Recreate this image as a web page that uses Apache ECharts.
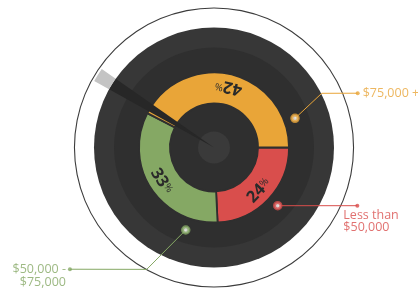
<!DOCTYPE html>
<html lang="en">
<head>
<meta charset="UTF-8">
<title>Income split</title>
<style>
  html, body { margin: 0; padding: 0; background: #fff; }
  #main { width: 418px; height: 297px; }
</style>
<script src="https://cdn.jsdelivr.net/npm/echarts@6/dist/echarts.min.js"></script>
</head>
<body>
<div id="main"></div>
<script>
// income groups, clockwise from 3 o'clock
var groups = ['Less than\n$50,000', '$50,000 -\n$75,000', '$75,000 +'];
var shares = [24, 33, 42];
var groupColors = ['#d94e4c', '#85a864', '#e9a538'];

// leader lines as polar points [radius, angle], angle ccw from 3 o'clock
var leaderPaths = [
    [[86.3, 317.6], [154.7, 337.9]],
    [[87.2, 251.1], [139.2, 241.1], [188.6, 220.2]],
    [[86.1, 19.8], [120.6, 26.7], [153.6, 20.7]]
];

// needle direction and width in degrees
var needleAngle = 148;
var needleWidth = 6;

var total = shares.reduce(function (a, b) { return a + b; }, 0);

// rotate each % label so its top faces the centre
var cum = 0;
var ringData = shares.map(function (v, i) {
    var mid = -(cum + v / 2) / total * 360;
    cum += v;
    return {
        name: groups[i],
        value: v,
        itemStyle: { color: groupColors[i] },
        label: { rotate: mid + 90 }
    };
});

function disc(r, color, z) {
    return {
        type: 'pie', center: [214, 147.5], radius: r, silent: true, z: z,
        label: { show: false }, labelLine: { show: false },
        emphasis: { disabled: true },
        data: [{ value: 1, itemStyle: { color: color } }]
    };
}

function needle(r, color, z) {
    return {
        type: 'pie', center: [214, 147.5], radius: r, silent: true, z: z,
        startAngle: needleAngle + needleWidth / 2, clockwise: true,
        label: { show: false }, labelLine: { show: false },
        emphasis: { disabled: true },
        data: [
            { value: needleWidth, itemStyle: { color: color } },
            { value: 360 - needleWidth, itemStyle: { color: 'rgba(0,0,0,0)' } }
        ]
    };
}

var endLabels = [
    { position: [-12, 5], align: 'left', verticalAlign: 'top' },
    { position: [-2, -4], align: 'right', verticalAlign: 'top' },
    { position: 'right', distance: 3, verticalAlign: 'middle' }
];

var series = [
    disc([139, 140.1], '#3c3c3c', 1),
    disc([0, 120], '#373737', 1),
    disc([0, 100], '#2f2f2f', 2),
    {
        type: 'pie', center: [214, 147.5], radius: [44, 75], z: 3,
        startAngle: 0, clockwise: true, silent: true,
        emphasis: { disabled: true },
        itemStyle: { borderColor: '#2f2f2f', borderWidth: 1.8 },
        label: {
            position: 'inside',
            formatter: function (p) { return '{v|' + p.value + '}{p|%}'; },
            rich: {
                v: { fontFamily: 'Open Sans', fontWeight: 'bold', fontSize: 16.5, color: '#2a2a2a' },
                p: { fontFamily: 'Open Sans', fontSize: 10, color: '#2a2a2a', padding: [0, 0, 4, 0] }
            }
        },
        labelLine: { show: false },
        data: ringData
    },
    disc([0, 16], '#3a3a3a', 4),
    needle([0, 120], '#272727', 5),
    needle([120, 137], '#c4c4c4', 5)
];

leaderPaths.forEach(function (path, i) {
    series.push({
        type: 'line', coordinateSystem: 'polar', clip: false, silent: true, z: 6,
        symbol: 'none', animation: false,
        lineStyle: { color: groupColors[i], width: 1 },
        data: path
    });
});

series.push({
    type: 'scatter', coordinateSystem: 'polar', clip: false, silent: true, z: 7,
    symbolSize: 6.5,
    data: leaderPaths.map(function (p, i) {
        return { value: p[0], itemStyle: { color: '#fff', borderColor: groupColors[i], borderWidth: 3 } };
    })
});

series.push({
    type: 'scatter', coordinateSystem: 'polar', clip: false, silent: true, z: 7,
    symbolSize: 4,
    data: leaderPaths.map(function (p, i) {
        return {
            value: p[p.length - 1],
            itemStyle: { color: groupColors[i] },
            label: Object.assign({
                show: true, formatter: groups[i], color: groupColors[i],
                fontFamily: 'Open Sans', fontSize: 12.5, lineHeight: 12.5
            }, endLabels[i])
        };
    })
});

var chart = echarts.init(document.getElementById('main'));
chart.setOption({
    animation: false,
    // radius axis runs in pixels so leader points past the rim still map
    polar: { center: [214, 147.5], radius: 200 },
    angleAxis: {
        type: 'value', min: 0, max: 360, startAngle: 0, clockwise: false,
        axisLine: { show: false }, axisTick: { show: false },
        axisLabel: { show: false }, splitLine: { show: false }
    },
    radiusAxis: {
        type: 'value', min: 0, max: 200,
        axisLine: { show: false }, axisTick: { show: false },
        axisLabel: { show: false }, splitLine: { show: false }
    },
    series: series
});
</script>
</body>
</html>
